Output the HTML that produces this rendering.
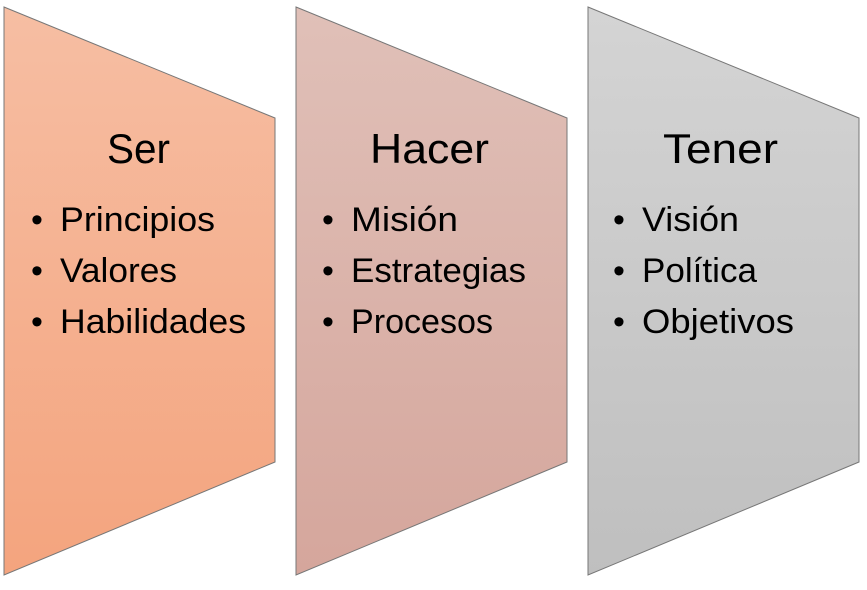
<!DOCTYPE html>
<html><head><meta charset="utf-8"><style>
html,body{margin:0;padding:0;background:#fff;width:867px;height:590px;overflow:hidden}
svg{display:block}
text{font-family:"Liberation Sans",sans-serif;fill:#000}
</style></head><body>
<svg width="867" height="590" viewBox="0 0 867 590">
<defs>
<linearGradient id="g1" x1="0" y1="0" x2="0" y2="1"><stop offset="0" stop-color="#f6bea3"/><stop offset="1" stop-color="#f4a47e"/></linearGradient>
<linearGradient id="g2" x1="0" y1="0" x2="0" y2="1"><stop offset="0" stop-color="#e0c0b8"/><stop offset="1" stop-color="#d5a69c"/></linearGradient>
<linearGradient id="g3" x1="0" y1="0" x2="0" y2="1"><stop offset="0" stop-color="#d4d4d4"/><stop offset="1" stop-color="#bfbfbf"/></linearGradient>
</defs>
<polygon points="4,7 275,118 275,462 4,575" fill="url(#g1)" stroke="#777" stroke-width="1"/>
<polygon points="296,7 567,118 567,462 296,575" fill="url(#g2)" stroke="#777" stroke-width="1"/>
<polygon points="588,7 859,118 859,462 588,575" fill="url(#g3)" stroke="#777" stroke-width="1"/>
<g font-size="42" lengthAdjust="spacingAndGlyphs">
<text x="107" y="163" textLength="63" lengthAdjust="spacingAndGlyphs">Ser</text>
<text x="370" y="163" textLength="119" lengthAdjust="spacingAndGlyphs">Hacer</text>
<text x="663" y="163" textLength="115" lengthAdjust="spacingAndGlyphs">Tener</text>
</g>
<g font-size="34">
<text x="31" y="231">•</text><text x="31" y="282">•</text><text x="31" y="333">•</text>
<text x="322" y="231">•</text><text x="322" y="282">•</text><text x="322" y="333">•</text>
<text x="613" y="231">•</text><text x="613" y="282">•</text><text x="613" y="333">•</text>
<text x="60" y="231" textLength="155" lengthAdjust="spacingAndGlyphs">Principios</text>
<text x="60" y="282" textLength="117" lengthAdjust="spacingAndGlyphs">Valores</text>
<text x="60" y="333" textLength="186" lengthAdjust="spacingAndGlyphs">Habilidades</text>
<text x="351" y="231" textLength="107" lengthAdjust="spacingAndGlyphs">Misión</text>
<text x="351" y="282" textLength="175" lengthAdjust="spacingAndGlyphs">Estrategias</text>
<text x="351" y="333" textLength="142" lengthAdjust="spacingAndGlyphs">Procesos</text>
<text x="642" y="231" textLength="97" lengthAdjust="spacingAndGlyphs">Visión</text>
<text x="642" y="282" textLength="115" lengthAdjust="spacingAndGlyphs">Política</text>
<text x="642" y="333" textLength="152" lengthAdjust="spacingAndGlyphs">Objetivos</text>
</g>
</svg>
</body></html>
